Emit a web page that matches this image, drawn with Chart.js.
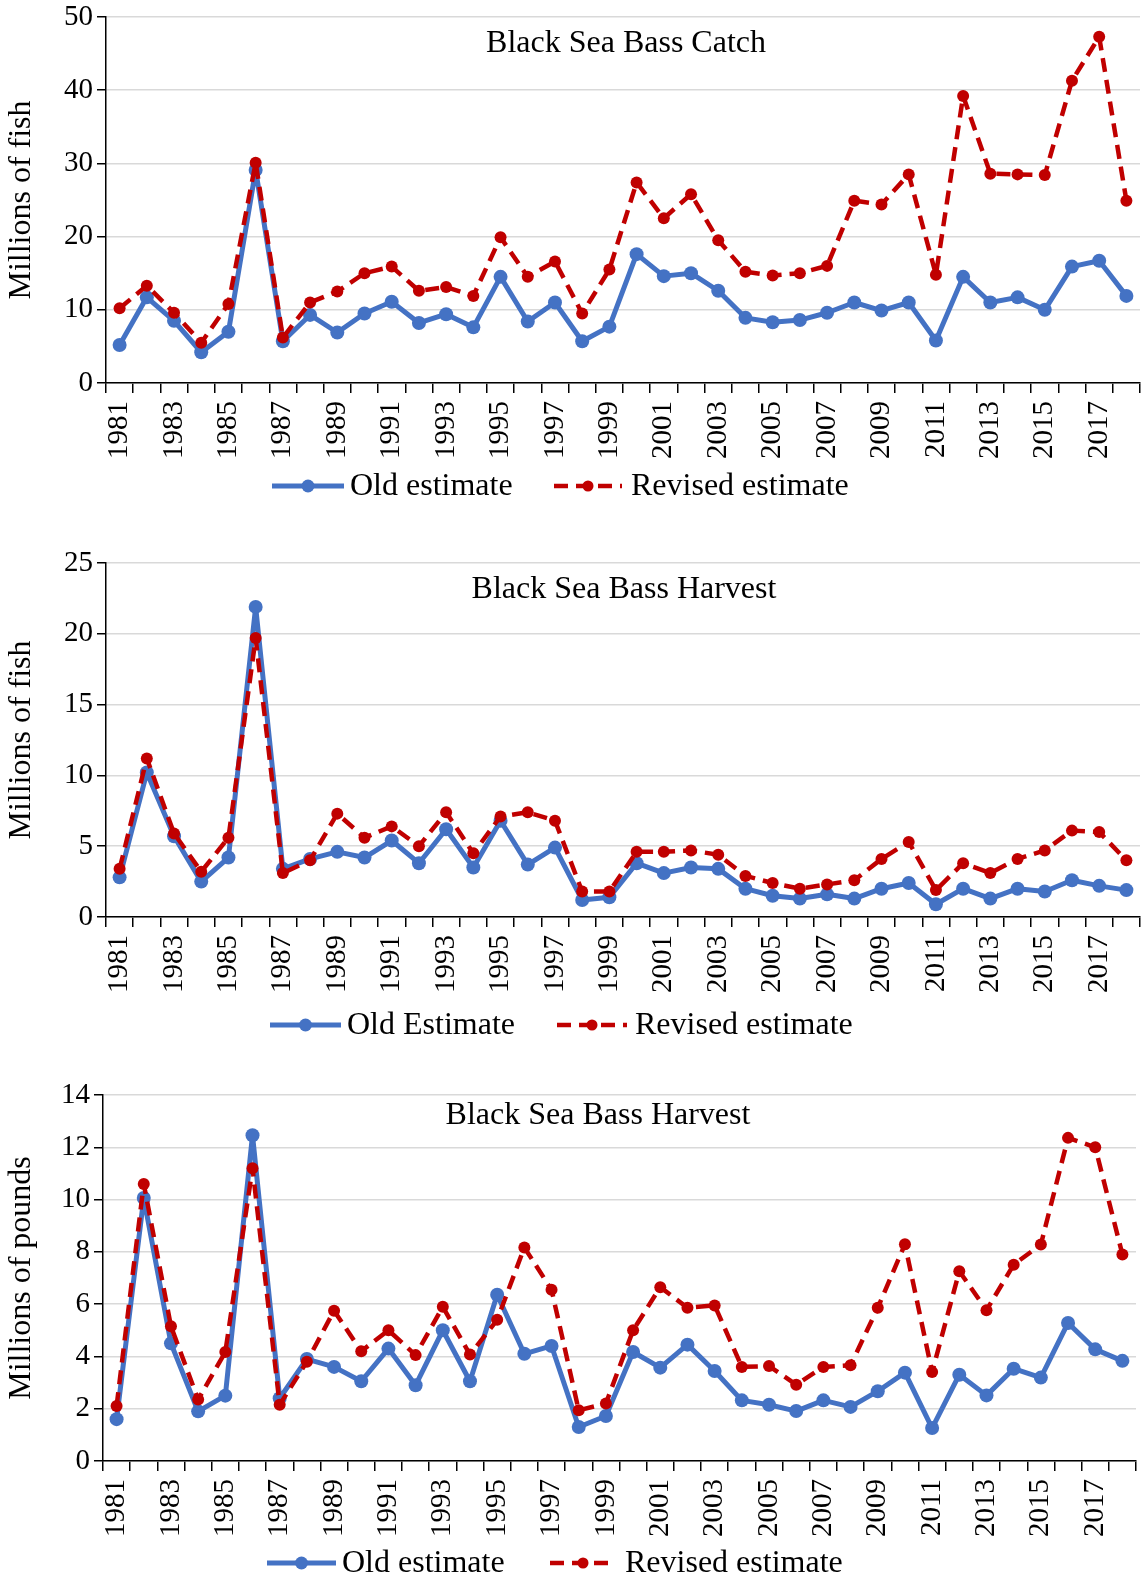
<!DOCTYPE html>
<html>
<head>
<meta charset="utf-8">
<script src="https://cdn.jsdelivr.net/npm/chart.js@4.4.1/dist/chart.umd.min.js"></script>
<style>
  html, body { margin: 0; padding: 0; background: #fff; }
  #wrap { position: relative; width: 1147px; height: 1580px; overflow: hidden; background: #fff; }
  #wrap canvas { position: absolute; left: 0; }
</style>
</head>
<body>
<div id="wrap">
  <canvas id="c1" width="1147" height="530" style="top:0px"></canvas>
  <canvas id="c2" width="1147" height="530" style="top:530px"></canvas>
  <canvas id="c3" width="1147" height="520" style="top:1060px"></canvas>
</div>
<script>
// Survey years (categories shared by all three panels)
const years = ['1981','1982','1983','1984','1985','1986','1987','1988','1989','1990',
  '1991','1992','1993','1994','1995','1996','1997','1998','1999','2000',
  '2001','2002','2003','2004','2005','2006','2007','2008','2009','2010',
  '2011','2012','2013','2014','2015','2016','2017','2018'];

// Black Sea Bass catch, millions of fish
const catchOld = [5.2, 11.7, 8.5, 4.2, 7.0, 29.1, 5.7, 9.3, 6.9, 9.5,
  11.1, 8.2, 9.4, 7.6, 14.5, 8.4, 11.0, 5.7, 7.7, 17.6,
  14.6, 15.0, 12.6, 8.9, 8.3, 8.6, 9.6, 11.0, 9.9, 11.0,
  5.8, 14.5, 11.0, 11.7, 10.0, 15.9, 16.7, 11.9];
const catchRevised = [10.2, 13.3, 9.6, 5.5, 10.8, 30.1, 6.2, 11.0, 12.5, 15.0,
  15.9, 12.6, 13.1, 11.9, 19.9, 14.5, 16.6, 9.5, 15.5, 27.4,
  22.5, 25.8, 19.5, 15.2, 14.7, 15.0, 16.0, 24.9, 24.4, 28.5,
  14.8, 39.2, 28.6, 28.5, 28.4, 41.3, 47.3, 24.9];

// Black Sea Bass harvest, millions of fish
const harvestFishOld = [2.8, 10.2, 5.7, 2.5, 4.2, 21.9, 3.4, 4.1, 4.6, 4.2,
  5.4, 3.8, 6.2, 3.5, 6.8, 3.7, 4.9, 1.2, 1.4, 3.8,
  3.1, 3.5, 3.4, 2.0, 1.5, 1.3, 1.6, 1.3, 2.0, 2.4,
  0.9, 2.0, 1.3, 2.0, 1.8, 2.6, 2.2, 1.9];
const harvestFishRevised = [3.4, 11.2, 5.9, 3.2, 5.6, 19.7, 3.1, 4.0, 7.3, 5.6,
  6.4, 5.0, 7.4, 4.5, 7.1, 7.4, 6.8, 1.8, 1.8, 4.6,
  4.6, 4.7, 4.4, 2.9, 2.4, 2.0, 2.3, 2.6, 4.1, 5.3,
  1.9, 3.8, 3.1, 4.1, 4.7, 6.1, 6.0, 4.0];

// Black Sea Bass harvest, millions of pounds
const harvestLbsOld = [1.6, 10.06, 4.5, 1.9, 2.5, 12.46, 2.4, 3.9, 3.6, 3.05,
  4.3, 2.9, 5.0, 3.05, 6.36, 4.1, 4.4, 1.3, 1.72, 4.17,
  3.57, 4.45, 3.44, 2.32, 2.15, 1.91, 2.32, 2.07, 2.67, 3.38,
  1.26, 3.3, 2.51, 3.53, 3.19, 5.28, 4.27, 3.83];
const harvestLbsRevised = [2.1, 10.6, 5.15, 2.35, 4.17, 11.2, 2.15, 3.8, 5.75, 4.2,
  5.0, 4.05, 5.9, 4.07, 5.4, 8.17, 6.55, 1.94, 2.2, 5.0,
  6.65, 5.86, 5.95, 3.6, 3.63, 2.92, 3.6, 3.66, 5.86, 8.29,
  3.4, 7.26, 5.77, 7.51, 8.28, 12.36, 12.0, 7.9];

const BLUE = '#4472C4';
const RED = '#C00000';
const SERIF = '"Liberation Serif", "Times New Roman", serif';

// Panel heading drawn inside the plot area
const panelTitle = {
  id: 'panelTitle',
  afterDraw(chart, args, opts) {
    const ctx = chart.ctx;
    ctx.save();
    ctx.fillStyle = '#000';
    ctx.font = `${opts.size}px ${SERIF}`;
    ctx.textAlign = 'center';
    ctx.textBaseline = 'middle';
    ctx.fillText(opts.text, opts.x, opts.y);
    ctx.restore();
  }
};

// Legend entries drawn as a short line sample with a marker in the middle
const lineLegend = {
  id: 'lineLegend',
  afterDraw(chart, args, opts) {
    const ctx = chart.ctx;
    opts.items.forEach((it, i) => {
      const ds = chart.data.datasets[i];
      ctx.save();
      ctx.strokeStyle = ds.borderColor;
      ctx.lineWidth = ds.borderWidth;
      ctx.setLineDash(ds.borderDash || []);
      ctx.beginPath();
      ctx.moveTo(it.x1, opts.y);
      ctx.lineTo(it.x2, opts.y);
      ctx.stroke();
      ctx.setLineDash([]);
      ctx.fillStyle = ds.pointBackgroundColor;
      ctx.beginPath();
      ctx.arc((it.x1 + it.x2) / 2, opts.y, ds.pointRadius - 0.5, 0, Math.PI * 2);
      ctx.fill();
      ctx.fillStyle = '#000';
      ctx.font = `${opts.size}px ${SERIF}`;
      ctx.textAlign = 'left';
      ctx.textBaseline = 'middle';
      ctx.fillText(ds.label, it.tx, opts.y + 1);
      ctx.restore();
    });
  }
};

function makePanel(id, cfg) {
  const canvas = document.getElementById(id);
  const H = canvas.height;
  const W = canvas.width;
  return new Chart(canvas, {
    type: 'line',
    data: {
      labels: years,
      datasets: [
        { label: cfg.oldLabel, data: cfg.old, borderColor: BLUE, backgroundColor: BLUE,
          borderWidth: 5, borderJoinStyle: 'round', borderCapStyle: 'round',
          pointRadius: 7, pointBorderWidth: 0, pointBackgroundColor: BLUE,
          tension: 0, order: 2 },
        { label: cfg.revLabel, data: cfg.rev, borderColor: RED, backgroundColor: RED,
          borderWidth: 4.5, borderDash: [14, 8], borderJoinStyle: 'round',
          pointRadius: 6, pointBorderWidth: 0,
          pointBackgroundColor: RED, tension: 0, order: 1 }
      ]
    },
    options: {
      responsive: false,
      animation: false,
      devicePixelRatio: 1,
      layout: { padding: { top: cfg.area.top, right: W - cfg.area.right, left: 0, bottom: 0 } },
      plugins: {
        legend: { display: false },
        tooltip: { enabled: false },
        panelTitle: { text: cfg.title, x: cfg.titleX, y: cfg.titleY, size: 32 },
        lineLegend: { y: cfg.legendY, size: 32, items: cfg.legendItems }
      },
      scales: {
        x: {
          offset: true,
          grid: { offset: true, drawOnChartArea: false, drawTicks: true, tickLength: 10,
                  tickColor: '#000', lineWidth: 1.5 },
          border: { display: true, color: '#000', width: 1.5 },
          ticks: {
            autoSkip: false, maxRotation: 90, minRotation: 90, padding: 8, color: '#000',
            font: { family: SERIF, size: 29 },
            callback(value, index) { return index % 2 === 0 ? this.getLabelForValue(value) : ''; }
          },
          afterFit(scale) {
            scale.height = H - cfg.area.bottom;
            scale.paddingLeft = 0;
            scale.paddingRight = 0;
          }
        },
        y: {
          min: 0, max: cfg.max,
          ticks: { stepSize: cfg.step, padding: 4, color: '#000', font: { family: SERIF, size: 29 } },
          grid: { color: '#d9d9d9', lineWidth: 1.5, tickColor: '#000', tickLength: 9, drawTicks: true },
          border: { display: true, color: '#000', width: 1.5 },
          title: { display: true, text: cfg.yTitle, color: '#000',
                   font: { family: SERIF, size: 32 }, padding: { top: 2, bottom: 0 } },
          afterFit(scale) {
            scale.width = cfg.area.left;
            scale.paddingTop = 0;
            scale.paddingBottom = 0;
          }
        }
      }
    },
    plugins: [panelTitle, lineLegend]
  });
}

makePanel('c1', {
  old: catchOld, rev: catchRevised, oldLabel: 'Old estimate', revLabel: 'Revised estimate',
  max: 50, step: 10, yTitle: 'Millions of fish',
  area: { left: 106, top: 17, right: 1147, bottom: 383 },
  title: 'Black Sea Bass Catch', titleX: 626, titleY: 44,
  legendY: 486,
  legendItems: [ { x1: 272, x2: 344, tx: 350 }, { x1: 554, x2: 622, tx: 631 } ]
});

makePanel('c2', {
  old: harvestFishOld, rev: harvestFishRevised, oldLabel: 'Old Estimate', revLabel: 'Revised estimate',
  max: 25, step: 5, yTitle: 'Millions of fish',
  area: { left: 106, top: 33, right: 1147, bottom: 387 },
  title: 'Black Sea Bass Harvest', titleX: 624, titleY: 60,
  legendY: 495,
  legendItems: [ { x1: 270, x2: 341, tx: 347 }, { x1: 557, x2: 627, tx: 635 } ]
});

makePanel('c3', {
  old: harvestLbsOld, rev: harvestLbsRevised, oldLabel: 'Old estimate', revLabel: 'Revised estimate',
  max: 14, step: 2, yTitle: 'Millions of pounds',
  area: { left: 103, top: 35, right: 1136, bottom: 401 },
  title: 'Black Sea Bass Harvest', titleX: 598, titleY: 56,
  legendY: 503,
  legendItems: [ { x1: 267, x2: 336, tx: 342 }, { x1: 550, x2: 616, tx: 625 } ]
});
</script>
</body>
</html>
